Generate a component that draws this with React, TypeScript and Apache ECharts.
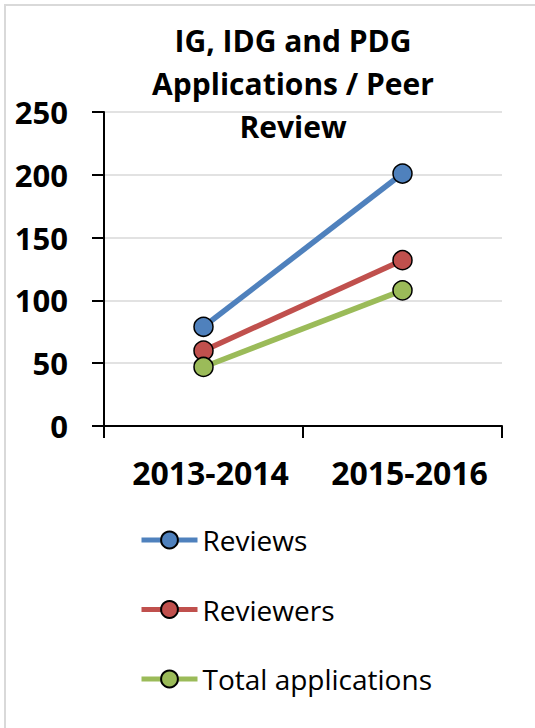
import React, { useEffect, useRef } from "react";
import * as echarts from "echarts";

const titleText = "IG, IDG and PDG\nApplications / Peer\nReview";
const categories = ["2013-2014", "2015-2016"];
const seriesNames = ["Reviews", "Reviewers", "Total applications"];
const reviews = [79, 201];
const reviewers = [60, 132];
const totalApplications = [47, 108];
const seriesColors = ["#4F81BD", "#C0504D", "#9BBB59"];
const yTicks = { min: 0, max: 250, interval: 50 };

export default function App() {
  const ref = useRef<HTMLDivElement>(null);
  useEffect(() => {
    if (!ref.current) return;
    const chart = echarts.init(ref.current, null, { renderer: "svg" });
    const values = [reviews, reviewers, totalApplications];
    const font = "Open Sans";
    chart.setOption({
      animation: false,
      backgroundColor: "#ffffff",
      graphic: [
        {
          type: "rect",
          shape: { x: 5, y: 5, width: 560, height: 760 },
          style: { fill: "none", stroke: "#d9d9d9", lineWidth: 2 },
          silent: true,
        },
        {
          type: "text",
          x: 293,
          y: 19,
          style: {
            text: titleText,
            fontFamily: font,
            fontWeight: "bold",
            fontSize: 30,
            lineHeight: 43,
            fill: "#000000",
            textAlign: "center",
            textVerticalAlign: "top",
          },
        },
      ],
      grid: { left: 104, right: 33, top: 112, bottom: 302, containLabel: false },
      legend: {
        orient: "vertical",
        left: 139,
        top: 526,
        padding: 0,
        itemGap: 41.5,
        itemWidth: 56,
        itemHeight: 21,
        data: seriesNames,
        lineStyle: { width: 5 },
        textStyle: { fontFamily: font, fontSize: 28, color: "#000000", lineHeight: 21 },
      },
      xAxis: {
        type: "category",
        data: categories,
        boundaryGap: true,
        axisLine: { show: true, lineStyle: { color: "#000000", width: 2 } },
        axisTick: { show: true, length: 12, lineStyle: { color: "#000000", width: 2 } },
        axisLabel: {
          interval: 0,
          hideOverlap: false,
          margin: 30,
          padding: [0, 0, 0, 14],
          fontFamily: font,
          fontWeight: "bold",
          fontSize: 32,
          color: "#000000",
        },
        splitLine: { show: false },
      },
      yAxis: {
        type: "value",
        min: yTicks.min,
        max: yTicks.max,
        interval: yTicks.interval,
        axisLine: { show: true, lineStyle: { color: "#000000", width: 2 } },
        axisTick: { show: true, length: 12, lineStyle: { color: "#000000", width: 2 } },
        axisLabel: {
          margin: 36,
          fontFamily: font,
          fontWeight: "bold",
          fontSize: 31,
          color: "#000000",
        },
        splitLine: { show: true, lineStyle: { color: "#d9d9d9", width: 1.5 } },
      },
      series: seriesNames.map((name, i) => ({
        name,
        type: "line",
        data: values[i],
        symbol: "circle",
        symbolSize: 19,
        lineStyle: { color: seriesColors[i], width: 5.5 },
        itemStyle: { color: seriesColors[i], borderColor: "#000000", borderWidth: 1.5 },
      })),
    });
    return () => chart.dispose();
  }, []);
  return (
    <div
      ref={ref}
      style={{ position: "absolute", left: 0, top: 0, width: 535, height: 728 }}
    />
  );
}
